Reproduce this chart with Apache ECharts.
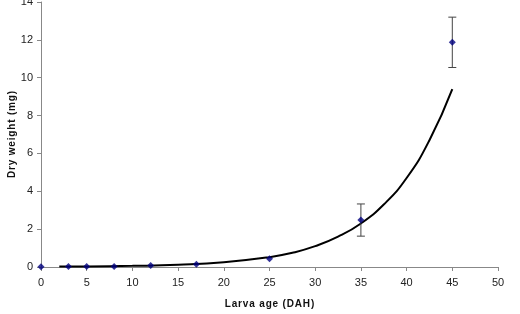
<!DOCTYPE html>
<html>
<head>
    <meta charset="utf-8">
    <title>Dry weight</title>
    <script src="https://cdn.jsdelivr.net/npm/echarts@6/dist/echarts.min.js"></script>
</head>
<body style="margin:0;background:#fff;">
    <div id="main" style="width:520px;height:314px;"></div>
    <script type="text/javascript">
        // measured points
        var ageDAH = [0, 3, 5, 8, 12, 17, 25, 35, 45];
        var dryWeight = [0.01, 0.03, 0.03, 0.03, 0.08, 0.15, 0.44, 2.48, 11.87];
        var errSD = [0, 0, 0, 0, 0, 0, 0, 0.85, 1.33];

        // trend curve
        var curveX = [2, 5, 10, 15, 20, 25, 27.5, 30, 32.5, 35, 37.5, 40, 42.5, 45];
        var curveY = [0.02, 0.03, 0.06, 0.12, 0.25, 0.52, 0.75, 1.1, 1.6, 2.3, 3.3, 4.7, 6.7, 9.4];

        var myChart = echarts.init(document.getElementById('main'));

        var pts = ageDAH.map(function (x, i) { return [x, dryWeight[i]]; });
        var curve = curveX.map(function (x, i) { return [x, curveY[i]]; });
        var bars = [];
        ageDAH.forEach(function (x, i) {
            if (errSD[i] > 0) bars.push([x, dryWeight[i] - errSD[i], dryWeight[i] + errSD[i]]);
        });

        // slight letter spacing like the original titles
        function spaced(s) { return s.split('').join('\u200A'); }

        var axisFont = { fontFamily: 'Liberation Sans', fontSize: 11, color: '#222' };
        var nameFont = { fontFamily: 'Liberation Sans', fontSize: 10, fontWeight: 'bold', color: '#111' };

        var option = {
            animation: false,
            grid: { left: 41, right: 22, top: 2, bottom: 47, containLabel: false, outerBoundsMode: 'none' },
            xAxis: {
                type: 'value', min: 0, max: 50, interval: 5,
                name: spaced('Larva age (DAH)'),
                nameLocation: 'middle', nameGap: 32,
                nameMoveOverlap: false,
                nameTextStyle: nameFont,
                axisLine: { lineStyle: { color: '#888', width: 1 } },
                axisTick: { inside: false, length: 4, lineStyle: { color: '#888' } },
                axisLabel: Object.assign({ margin: 10 }, axisFont),
                splitLine: { show: false }
            },
            yAxis: {
                type: 'value', min: 0, max: 14, interval: 2,
                name: spaced('Dry weight (mg)'),
                nameLocation: 'middle', nameGap: 24,
                nameMoveOverlap: false,
                nameTextStyle: nameFont,
                axisLine: { show: true, lineStyle: { color: '#888', width: 1 } },
                axisTick: { show: true, inside: false, length: 4, lineStyle: { color: '#888' } },
                axisLabel: Object.assign({ margin: 8 }, axisFont),
                splitLine: { show: false }
            },
            series: [
                {
                    type: 'line',
                    data: curve,
                    smooth: 0.5,
                    showSymbol: false,
                    lineStyle: { color: '#000', width: 2 },
                    z: 2
                },
                {
                    type: 'custom',
                    data: bars,
                    renderItem: function (params, api) {
                        var lo = api.coord([api.value(0), api.value(1)]);
                        var hi = api.coord([api.value(0), api.value(2)]);
                        var w = 4;
                        var st = { stroke: '#444', lineWidth: 1 };
                        return {
                            type: 'group',
                            children: [
                                { type: 'line', shape: { x1: hi[0], y1: hi[1], x2: lo[0], y2: lo[1] }, style: st },
                                { type: 'line', shape: { x1: hi[0] - w, y1: hi[1], x2: hi[0] + w, y2: hi[1] }, style: st },
                                { type: 'line', shape: { x1: lo[0] - w, y1: lo[1], x2: lo[0] + w, y2: lo[1] }, style: st }
                            ]
                        };
                    },
                    z: 3
                },
                {
                    type: 'scatter',
                    data: pts,
                    symbol: 'diamond',
                    symbolSize: 7,
                    itemStyle: { color: '#000080' },
                    z: 4
                }
            ]
        };

        myChart.setOption(option);
    </script>
</body>
</html>
